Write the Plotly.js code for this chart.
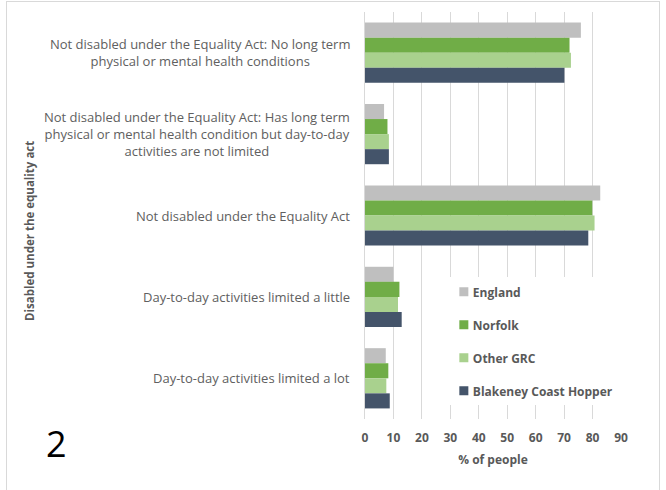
<!DOCTYPE html>
<html>
<head>
<meta charset="utf-8">
<script src="https://cdn.plot.ly/plotly-3.0.1.min.js"></script>
<style>
html,body{margin:0;padding:0;background:#fff;}
#frame{position:absolute;left:6px;top:1px;width:654px;height:520px;border:1px solid #d9d9d9;box-sizing:border-box;}
#chart{position:absolute;left:0;top:0;width:666px;height:490px;}
</style>
</head>
<body>
<div id="frame"></div>
<div id="chart"></div>
<script>
const categories = [
  "Not disabled under the Equality Act: No long term<br>physical or mental health conditions",
  "Not disabled under the Equality Act: Has long term<br>physical or mental health condition but day-to-day<br>activities are not limited",
  "Not disabled under the Equality Act",
  "Day-to-day activities limited a little",
  "Day-to-day activities limited a lot"
];
const seriesNames = ["England", "Norfolk", "Other GRC", "Blakeney Coast Hopper"];
const england  = [75.9, 6.7, 82.7, 10.0, 7.3];
const norfolk  = [71.9, 7.9, 79.9, 12.1, 8.2];
const otherGRC = [72.4, 8.4, 80.7, 11.6, 7.5];
const blakeney = [70.1, 8.4, 78.5, 12.9, 8.7];
const xTicks = [0, 10, 20, 30, 40, 50, 60, 70, 80, 90];
const colors = ["#BFBFBF", "#70AD47", "#A9D18E", "#44546A"];
const values = [england, norfolk, otherGRC, blakeney];

const FONT = "'Open Sans', sans-serif";
const traces = values.map((v, i) => ({
  type: "bar",
  orientation: "h",
  name: seriesNames[i],
  x: v,
  y: categories,
  marker: {color: colors[i]},
  legendgroup: "g" + i,
  hoverinfo: "x+name"
}));

const grey = "#595959";
const annotations = categories.map(c => ({
  xref: "paper", yref: "y",
  x: -0.05, y: c,
  xanchor: "right", yanchor: "middle",
  align: "center",
  text: c,
  showarrow: false,
  font: {family: FONT, size: 13, color: "#606060"}
}));
annotations.push({
  xref: "paper", yref: "paper",
  x: -(365 - 30) / 256, y: (419 - 231) / 407,
  xanchor: "center", yanchor: "middle",
  textangle: -90,
  text: "<b>Disabled under the equality act</b>",
  showarrow: false,
  font: {family: FONT, size: 11.5, color: grey}
});
annotations.push({
  xref: "paper", yref: "paper",
  x: -(365 - 56) / 256, y: -(443 - 419) / 407,
  xanchor: "center", yanchor: "middle",
  text: "2",
  showarrow: false,
  font: {family: FONT, size: 36, color: "#000"}
});

const layout = {
  width: 666, height: 490,
  margin: {l: 365, r: 45, t: 12, b: 71, pad: 0},
  paper_bgcolor: "rgba(0,0,0,0)",
  plot_bgcolor: "rgba(0,0,0,0)",
  barmode: "group",
  bargap: 0.26,
  bargroupgap: 0,
  showlegend: true,
  legend: {
    x: 0.265, y: 0.348, xanchor: "left", yanchor: "top",
    bgcolor: "#ffffff",
    traceorder: "grouped",
    tracegroupgap: 14,
    font: {family: FONT, size: 12, color: grey, weight: "bold"}
  },
  xaxis: {
    range: [0, 90],
    tickvals: xTicks,
    ticktext: xTicks.map(String),
    showgrid: true, gridcolor: "#D9D9D9", gridwidth: 1,
    zeroline: false, showline: false,
    ticks: "",
    ticklabelstandoff: 10,
    tickfont: {family: FONT, size: 12, color: grey, weight: "bold"},
    title: {text: "% of people", standoff: 10, font: {family: FONT, size: 12, color: grey, weight: "bold"}},
    fixedrange: true
  },
  yaxis: {
    type: "category",
    categoryorder: "array",
    categoryarray: categories,
    autorange: "reversed",
    showticklabels: false,
    showline: true, linecolor: "#D9D9D9", linewidth: 1,
    showgrid: false, zeroline: false,
    ticks: "",
    fixedrange: true
  },
  annotations: annotations
};

Plotly.newPlot("chart", traces, layout, {displayModeBar: false, staticPlot: true}).then(gd => {
  // tighten legend swatches next to their labels, as in the reference
  gd.querySelectorAll(".legend .legendpoints").forEach(g => {
    g.setAttribute("transform", "translate(16,0) scale(0.75)");
  });
});
</script>
</body>
</html>
